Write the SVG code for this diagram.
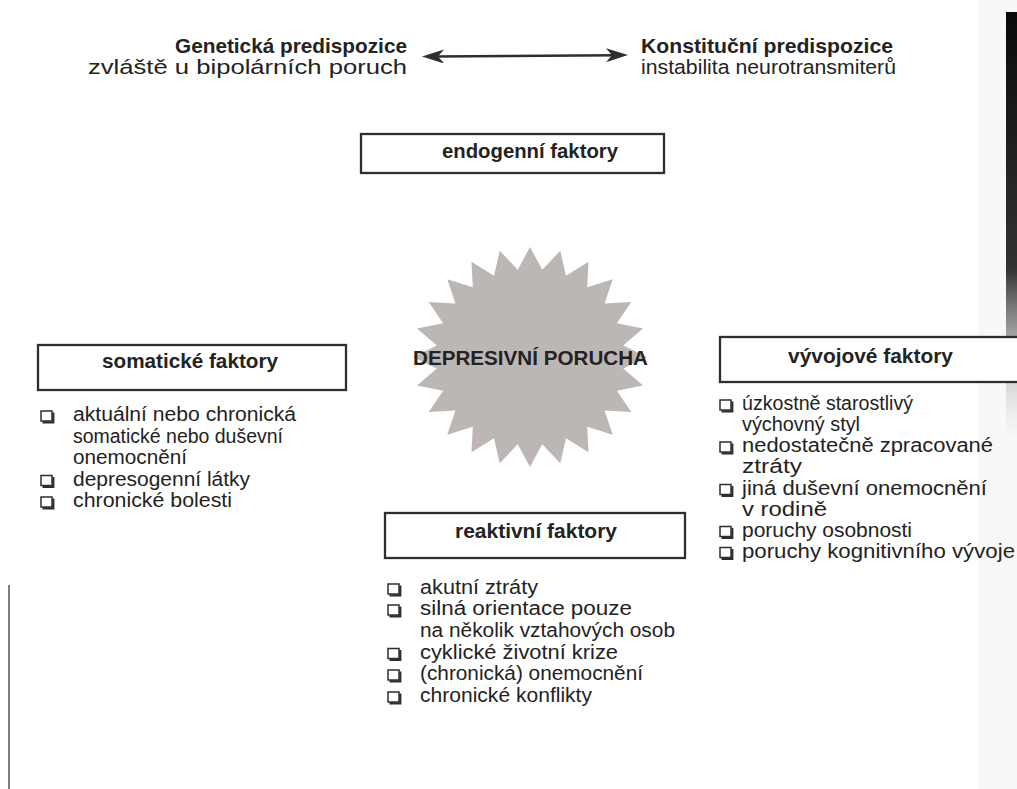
<svg xmlns="http://www.w3.org/2000/svg" width="1017" height="789" viewBox="0 0 1017 789">
<style>
.t{font-family:"Liberation Sans",Arial,sans-serif;fill:#232323}
.b{font-weight:bold;font-size:20.5px}
.r{font-size:19.5px}
.s{font-size:20.5px}
.box{fill:#fff;stroke:#2e2e2e;stroke-width:2.3}
.conn{stroke:#2e2e2e;stroke-width:2.6;fill:none}
</style>
<defs>
<marker id="ah" markerWidth="24" markerHeight="16" refX="10" refY="7" orient="auto-start-reverse" markerUnits="userSpaceOnUse">
<path d="M0,0 L22,7 L0,14 L6,7 Z" fill="#2e2e2e"/>
</marker>
<g id="cb"><rect x="0" y="0" width="11" height="10" fill="#fff" stroke="#2e2e2e" stroke-width="1.5"/><path d="M1.5,11.3 H12.3 V1.5" fill="none" stroke="#2e2e2e" stroke-width="2.2"/></g>
<linearGradient id="edge" x1="0" y1="0" x2="0" y2="1"><stop offset="0" stop-color="#0a0a0a"/><stop offset="0.6" stop-color="#333"/><stop offset="1" stop-color="#ccc" stop-opacity="0"/></linearGradient>
</defs>
<rect width="1017" height="789" fill="#fff"/>
<g id="scan-edge">
<rect x="978" y="0" width="39" height="789" fill="#f1efee" opacity="0.45"/>
<rect x="1006" y="12" width="11" height="430" fill="url(#edge)"/>
<line x1="9" y1="585" x2="9" y2="789" stroke="#555" stroke-width="1.5"/>
</g>
<g id="genetic">
<text class="t b" x="175" y="53" textLength="232" lengthAdjust="spacingAndGlyphs">Genetická predispozice</text>
<text class="t s" x="88" y="74" textLength="319" lengthAdjust="spacingAndGlyphs">zvláště u bipolárních poruch</text>
</g>
<g id="constitutional">
<text class="t b" x="641" y="53" textLength="252" lengthAdjust="spacingAndGlyphs">Konstituční predispozice</text>
<text class="t s" x="641" y="74" textLength="255" lengthAdjust="spacingAndGlyphs">instabilita neurotransmiterů</text>
</g>
<g id="connectors">
<line class="conn" x1="434" y1="56.5" x2="616" y2="55.2" marker-start="url(#ah)" marker-end="url(#ah)"/>
</g>
<g id="endogenni">
<rect class="box" x="361" y="134" width="303" height="39"/>
<text class="t b" x="442" y="158" textLength="176" lengthAdjust="spacingAndGlyphs">endogenní faktory</text>
</g>
<g id="depresivni-porucha">
<polygon fill="#bcb7b5" points="530,247 542.27,269.75 560.28,250.75 565.97,275.7 588.5,261.74 587.22,287.19 612.73,279.22 604.57,303.43 631.33,302 616.84,323.32 643.01,328.53 623.2,345.51 647,357 623.2,368.49 643.01,385.47 616.84,390.68 631.33,412 604.57,410.57 612.73,434.78 587.22,426.81 588.5,452.26 565.97,438.3 560.28,463.25 542.27,444.25 530,467 517.73,444.25 499.72,463.25 494.03,438.3 471.5,452.26 472.78,426.81 447.27,434.78 455.43,410.57 428.67,412 443.16,390.68 416.99,385.47 436.8,368.49 413,357 436.8,345.51 416.99,328.53 443.16,323.32 428.67,302 455.43,303.43 447.27,279.22 472.78,287.19 471.5,261.74 494.03,275.7 499.72,250.75 517.73,269.75"/>
<text class="t" x="413" y="365" font-weight="bold" font-size="19.5" textLength="235" lengthAdjust="spacingAndGlyphs">DEPRESIVNÍ PORUCHA</text>
</g>
<g id="somaticke">
<rect class="box" x="38" y="345" width="308" height="45"/>
<text class="t b" x="102" y="368" textLength="176" lengthAdjust="spacingAndGlyphs">somatické faktory</text>
<use href="#cb" x="41" y="411"/>
<text class="t r" x="73" y="421" textLength="223" lengthAdjust="spacingAndGlyphs">aktuální nebo chronická</text>
<text class="t r" x="73" y="442.5" textLength="210" lengthAdjust="spacingAndGlyphs">somatické nebo duševní</text>
<text class="t r" x="73" y="464" textLength="114" lengthAdjust="spacingAndGlyphs">onemocnění</text>
<use href="#cb" x="41" y="475.5"/>
<text class="t r" x="73" y="485.5" textLength="177" lengthAdjust="spacingAndGlyphs">depresogenní látky</text>
<use href="#cb" x="41" y="497"/>
<text class="t r" x="73" y="507" textLength="159" lengthAdjust="spacingAndGlyphs">chronické bolesti</text>
</g>
<g id="vyvojove">
<rect class="box" x="720" y="337" width="320" height="45"/>
<text class="t b" x="788" y="363" textLength="165" lengthAdjust="spacingAndGlyphs">vývojové faktory</text>
<use href="#cb" x="720" y="400"/>
<text class="t r" x="742" y="410" textLength="171" lengthAdjust="spacingAndGlyphs">úzkostně starostlivý</text>
<text class="t r" x="742" y="431" textLength="118" lengthAdjust="spacingAndGlyphs">výchovný styl</text>
<use href="#cb" x="720" y="442"/>
<text class="t r" x="742" y="452" textLength="251" lengthAdjust="spacingAndGlyphs">nedostatečně zpracované</text>
<text class="t r" x="742" y="473" textLength="60" lengthAdjust="spacingAndGlyphs">ztráty</text>
<use href="#cb" x="720" y="484.5"/>
<text class="t r" x="742" y="494.5" textLength="245" lengthAdjust="spacingAndGlyphs">jiná duševní onemocnění</text>
<text class="t r" x="742" y="515.5" textLength="85" lengthAdjust="spacingAndGlyphs">v rodině</text>
<use href="#cb" x="720" y="526.5"/>
<text class="t r" x="742" y="536.5" textLength="170" lengthAdjust="spacingAndGlyphs">poruchy osobnosti</text>
<use href="#cb" x="720" y="547.5"/>
<text class="t r" x="742" y="557.5" textLength="273" lengthAdjust="spacingAndGlyphs">poruchy kognitivního vývoje</text>
</g>
<g id="reaktivni">
<rect class="box" x="385" y="513" width="300" height="45"/>
<text class="t b" x="455" y="538" textLength="162" lengthAdjust="spacingAndGlyphs">reaktivní faktory</text>
<use href="#cb" x="388" y="584"/>
<text class="t r" x="420" y="594" textLength="118" lengthAdjust="spacingAndGlyphs">akutní ztráty</text>
<use href="#cb" x="388" y="605"/>
<text class="t r" x="420" y="615" textLength="212" lengthAdjust="spacingAndGlyphs">silná orientace pouze</text>
<text class="t r" x="420" y="637" textLength="255" lengthAdjust="spacingAndGlyphs">na několik vztahových osob</text>
<use href="#cb" x="388" y="648.5"/>
<text class="t r" x="420" y="658.5" textLength="198" lengthAdjust="spacingAndGlyphs">cyklické životní krize</text>
<use href="#cb" x="388" y="670"/>
<text class="t r" x="420" y="680" textLength="223" lengthAdjust="spacingAndGlyphs">(chronická) onemocnění</text>
<use href="#cb" x="388" y="692"/>
<text class="t r" x="420" y="702" textLength="172" lengthAdjust="spacingAndGlyphs">chronické konflikty</text>
</g>
</svg>
